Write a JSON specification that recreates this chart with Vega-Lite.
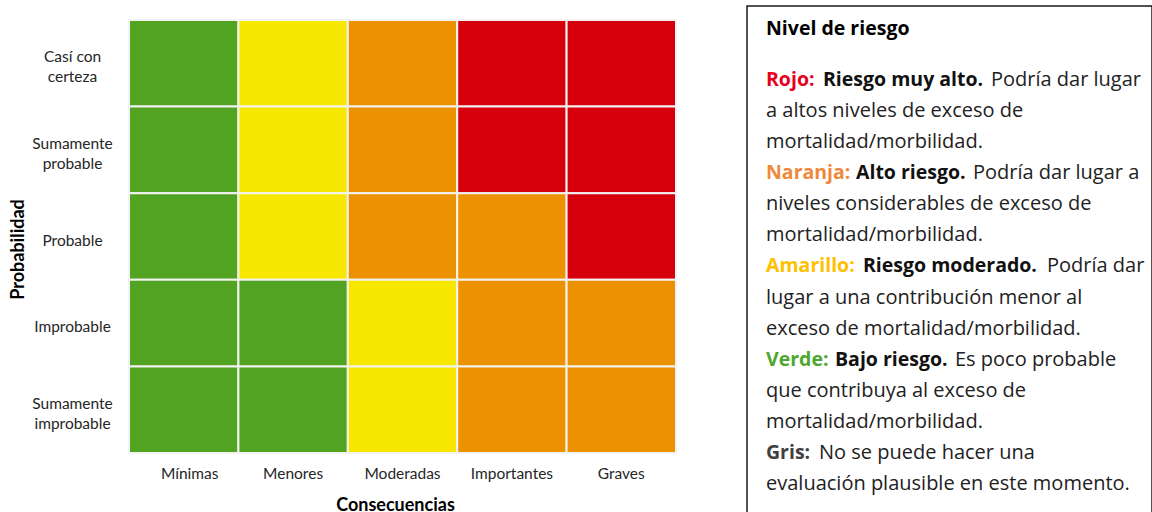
{
  "$schema": "https://vega.github.io/schema/vega-lite/v6.json",
  "padding": {"left": 9, "top": 5, "right": 0, "bottom": 0},
  "background": "white",
  "spacing": 69,
  "datasets": {
    "grid": [
      {"prob": "Casí con certeza", "cons": "Mínimas", "nivel": "Verde"},
      {"prob": "Casí con certeza", "cons": "Menores", "nivel": "Amarillo"},
      {"prob": "Casí con certeza", "cons": "Moderadas", "nivel": "Naranja"},
      {"prob": "Casí con certeza", "cons": "Importantes", "nivel": "Rojo"},
      {"prob": "Casí con certeza", "cons": "Graves", "nivel": "Rojo"},
      {"prob": "Sumamente probable", "cons": "Mínimas", "nivel": "Verde"},
      {"prob": "Sumamente probable", "cons": "Menores", "nivel": "Amarillo"},
      {"prob": "Sumamente probable", "cons": "Moderadas", "nivel": "Naranja"},
      {"prob": "Sumamente probable", "cons": "Importantes", "nivel": "Rojo"},
      {"prob": "Sumamente probable", "cons": "Graves", "nivel": "Rojo"},
      {"prob": "Probable", "cons": "Mínimas", "nivel": "Verde"},
      {"prob": "Probable", "cons": "Menores", "nivel": "Amarillo"},
      {"prob": "Probable", "cons": "Moderadas", "nivel": "Naranja"},
      {"prob": "Probable", "cons": "Importantes", "nivel": "Naranja"},
      {"prob": "Probable", "cons": "Graves", "nivel": "Rojo"},
      {"prob": "Improbable", "cons": "Mínimas", "nivel": "Verde"},
      {"prob": "Improbable", "cons": "Menores", "nivel": "Verde"},
      {"prob": "Improbable", "cons": "Moderadas", "nivel": "Amarillo"},
      {"prob": "Improbable", "cons": "Importantes", "nivel": "Naranja"},
      {"prob": "Improbable", "cons": "Graves", "nivel": "Naranja"},
      {"prob": "Sumamente improbable", "cons": "Mínimas", "nivel": "Verde"},
      {"prob": "Sumamente improbable", "cons": "Menores", "nivel": "Verde"},
      {"prob": "Sumamente improbable", "cons": "Moderadas", "nivel": "Amarillo"},
      {"prob": "Sumamente improbable", "cons": "Importantes", "nivel": "Naranja"},
      {"prob": "Sumamente improbable", "cons": "Graves", "nivel": "Naranja"}
    ],
    "legend": [
      {"line": 0, "level": "", "part": "heading", "text": "Nivel de riesgo"},
      {"line": 1, "level": "Rojo", "part": "label", "text": "Rojo:"},
      {"line": 1, "level": "Rojo", "part": "bold", "text": "Riesgo muy alto."},
      {"line": 1, "level": "Rojo", "part": "tail", "text": "Podría dar lugar"},
      {"line": 2, "level": "Rojo", "part": "plain", "text": "a altos niveles de exceso de"},
      {"line": 3, "level": "Rojo", "part": "plain", "text": "mortalidad/morbilidad."},
      {"line": 4, "level": "Naranja", "part": "label", "text": "Naranja:"},
      {"line": 4, "level": "Naranja", "part": "bold", "text": "Alto riesgo."},
      {"line": 4, "level": "Naranja", "part": "tail", "text": "Podría dar lugar a"},
      {"line": 5, "level": "Naranja", "part": "plain", "text": "niveles considerables de exceso de"},
      {"line": 6, "level": "Naranja", "part": "plain", "text": "mortalidad/morbilidad."},
      {"line": 7, "level": "Amarillo", "part": "label", "text": "Amarillo:"},
      {"line": 7, "level": "Amarillo", "part": "bold", "text": "Riesgo moderado."},
      {"line": 7, "level": "Amarillo", "part": "tail", "text": "Podría dar"},
      {"line": 8, "level": "Amarillo", "part": "plain", "text": "lugar a una contribución menor al"},
      {"line": 9, "level": "Amarillo", "part": "plain", "text": "exceso de mortalidad/morbilidad."},
      {"line": 10, "level": "Verde", "part": "label", "text": "Verde:"},
      {"line": 10, "level": "Verde", "part": "bold", "text": "Bajo riesgo."},
      {"line": 10, "level": "Verde", "part": "tail", "text": "Es poco probable"},
      {"line": 11, "level": "Verde", "part": "plain", "text": "que contribuya al exceso de"},
      {"line": 12, "level": "Verde", "part": "plain", "text": "mortalidad/morbilidad."},
      {"line": 13, "level": "Gris", "part": "label", "text": "Gris:"},
      {"line": 13, "level": "Gris", "part": "tail", "text": "No se puede hacer una"},
      {"line": 14, "level": "Gris", "part": "plain", "text": "evaluación plausible en este momento."}
    ]
  },
  "hconcat": [
    {
      "width": 547,
      "height": 447,
      "data": {"name": "grid"},
      "view": {"stroke": null},
      "mark": {"type": "rect", "stroke": "#f2f2f2", "strokeWidth": 2},
      "encoding": {
        "x": {
          "field": "cons", "type": "nominal",
          "sort": ["Mínimas", "Menores", "Moderadas", "Importantes", "Graves"],
          "scale": {"paddingInner": 0, "paddingOuter": 0},
          "axis": {
            "title": "Consecuencias", "domain": false, "ticks": false, "labelAngle": 0,
            "labelPadding": 13, "titlePadding": 15, "titleX": 266,
            "labelOffset": {"condition": {"test": "datum.value == 'Mínimas'", "value": 6}, "value": 0},
            "labelFont": "Lato", "labelFontSize": 15.5, "labelColor": "#262626",
            "titleFont": "Lato", "titleFontSize": 18, "titleFontWeight": "bold", "titleColor": "#000000"
          }
        },
        "y": {
          "field": "prob", "type": "nominal",
          "sort": ["Casí con certeza", "Sumamente probable", "Probable", "Improbable", "Sumamente improbable"],
          "scale": {"range": [14, 447], "paddingInner": 0, "paddingOuter": 0},
          "axis": {
            "title": "Probabilidad", "domain": false, "ticks": false,
            "labelAlign": "center", "labelBaseline": "middle", "labelPadding": 57,
            "labelOffset": {"condition": {"test": "indexof(datum.value, ' ') > 0", "value": -6}, "value": 4},
            "labelLineHeight": 20,
            "labelExpr": "datum.value == 'Casí con certeza' ? ['Casí con', 'certeza'] : (indexof(datum.value, ' ') > 0 ? split(datum.value, ' ') : datum.value)",
            "labelFont": "Lato", "labelFontSize": 15.5, "labelColor": "#262626",
            "titleFont": "Lato", "titleFontSize": 18, "titleFontWeight": "bold", "titleColor": "#000000",
            "titlePadding": 4, "titleY": 243
          }
        },
        "color": {
          "field": "nivel", "type": "nominal",
          "scale": {"domain": ["Verde", "Amarillo", "Naranja", "Rojo"], "range": ["#52A321", "#F8E800", "#EC9200", "#D6000D"]},
          "legend": null
        }
      }
    },
    {
      "width": 405,
      "height": 508,
      "data": {"name": "legend"},
      "view": {"stroke": "#1a1a1a", "strokeWidth": 1.5, "fill": "white"},
      "encoding": {
        "x": {"datum": 0, "type": "quantitative", "scale": {"domain": [-19, 386]}, "axis": null},
        "y": {"field": "line", "type": "quantitative", "scale": {"domain": [-1.381, 14.964], "reverse": true, "zero": false, "nice": false}, "axis": null},
        "text": {"field": "text"}
      },
      "layer": [
        {
          "transform": [{"filter": "datum.part == 'heading'"}],
          "mark": {"type": "text", "align": "left", "baseline": "middle", "font": "Open Sans", "fontSize": 19.5, "fontWeight": "bold", "fill": "#000000", "dy": -20}
        },
        {
          "transform": [{"filter": "datum.part == 'plain'"}],
          "mark": {"type": "text", "align": "left", "baseline": "middle", "font": "Open Sans", "fontSize": 20, "fill": "#222222"}
        },
        {
          "transform": [{"filter": "datum.part == 'label'"}],
          "mark": {"type": "text", "align": "left", "baseline": "middle", "font": "Open Sans", "fontSize": 19.5, "fontWeight": "bold"},
          "encoding": {
            "color": {"field": "level", "type": "nominal",
              "scale": {"domain": ["Rojo", "Naranja", "Amarillo", "Verde", "Gris"], "range": ["#E8001F", "#F0883A", "#FFC000", "#4EA72E", "#404040"]},
              "legend": null}
          }
        },
        {
          "transform": [{"filter": "datum.part == 'bold' && datum.level == 'Rojo'"}],
          "mark": {"type": "text", "align": "left", "baseline": "middle", "font": "Open Sans", "fontSize": 19.5, "fontWeight": "bold", "fill": "#111111", "dx": 57}
        },
        {
          "transform": [{"filter": "datum.part == 'bold' && datum.level == 'Naranja'"}],
          "mark": {"type": "text", "align": "left", "baseline": "middle", "font": "Open Sans", "fontSize": 19.5, "fontWeight": "bold", "fill": "#111111", "dx": 90}
        },
        {
          "transform": [{"filter": "datum.part == 'bold' && datum.level == 'Amarillo'"}],
          "mark": {"type": "text", "align": "left", "baseline": "middle", "font": "Open Sans", "fontSize": 19.5, "fontWeight": "bold", "fill": "#111111", "dx": 97}
        },
        {
          "transform": [{"filter": "datum.part == 'bold' && datum.level == 'Verde'"}],
          "mark": {"type": "text", "align": "left", "baseline": "middle", "font": "Open Sans", "fontSize": 19.5, "fontWeight": "bold", "fill": "#111111", "dx": 69}
        },
        {
          "transform": [{"filter": "datum.part == 'tail' && datum.level == 'Rojo'"}],
          "mark": {"type": "text", "align": "left", "baseline": "middle", "font": "Open Sans", "fontSize": 20, "fill": "#222222", "dx": 225}
        },
        {
          "transform": [{"filter": "datum.part == 'tail' && datum.level == 'Naranja'"}],
          "mark": {"type": "text", "align": "left", "baseline": "middle", "font": "Open Sans", "fontSize": 20, "fill": "#222222", "dx": 207}
        },
        {
          "transform": [{"filter": "datum.part == 'tail' && datum.level == 'Amarillo'"}],
          "mark": {"type": "text", "align": "left", "baseline": "middle", "font": "Open Sans", "fontSize": 20, "fill": "#222222", "dx": 281}
        },
        {
          "transform": [{"filter": "datum.part == 'tail' && datum.level == 'Verde'"}],
          "mark": {"type": "text", "align": "left", "baseline": "middle", "font": "Open Sans", "fontSize": 20, "fill": "#222222", "dx": 189}
        },
        {
          "transform": [{"filter": "datum.part == 'tail' && datum.level == 'Gris'"}],
          "mark": {"type": "text", "align": "left", "baseline": "middle", "font": "Open Sans", "fontSize": 20, "fill": "#222222", "dx": 53}
        }
      ]
    }
  ],
  "resolve": {"scale": {"color": "independent", "x": "independent", "y": "independent"}},
  "config": {"view": {"stroke": null}}
}
